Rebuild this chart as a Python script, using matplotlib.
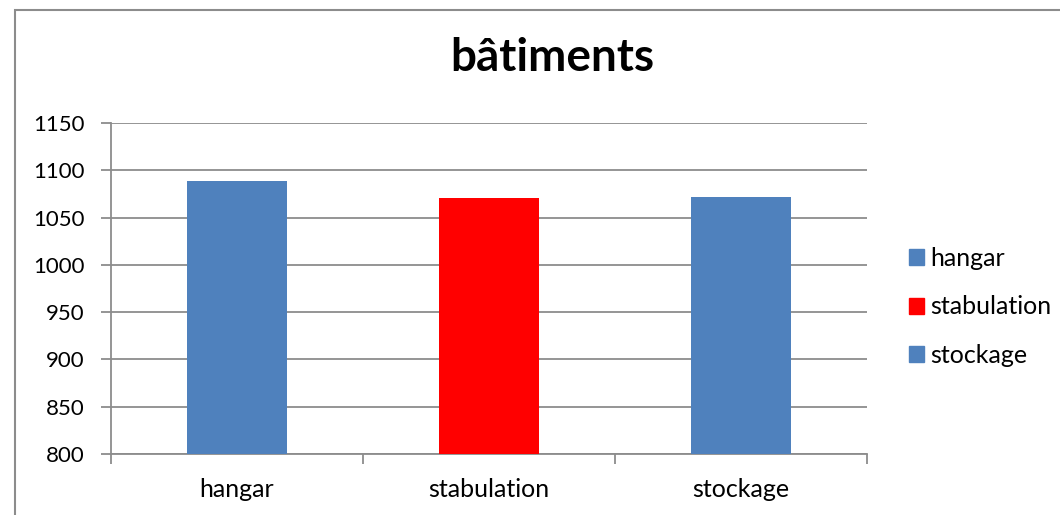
import matplotlib
matplotlib.use("Agg")
import matplotlib.pyplot as plt
import matplotlib.patches as mpatches

# data
categories = ["hangar", "stabulation", "stockage"]
values = [1089, 1071, 1072]
colors = ["#4F81BD", "#FF0000", "#4F81BD"]
yticks = [800, 850, 900, 950, 1000, 1050, 1100, 1150]

plt.rcParams["font.family"] = ["Lato", "DejaVu Sans"]
GREY = "#8C8C8C"

fig = plt.figure(figsize=(10.6, 5.15), dpi=100)
ax = fig.add_axes([111 / 1060, 1 - 454 / 515, 756 / 1060, 331 / 515])

# outer chart frame
frame = mpatches.Rectangle((15 / 1060, -0.1), 1.2, 1 - 10 / 515 + 0.1,
                           transform=fig.transFigure, fill=False,
                           edgecolor=GREY, linewidth=1.5)
fig.patches.append(frame)

x = range(len(categories))
ax.bar(x, values, width=0.40, color=colors, zorder=3)

ax.set_xlim(-0.5, len(categories) - 0.5)
ax.set_ylim(yticks[0], yticks[-1])
ax.set_yticks(yticks)
ax.set_yticklabels([str(v) for v in yticks], fontsize=16)
ax.yaxis.grid(True, color=GREY, linewidth=1.3, zorder=0)

ax.set_xticks([i - 0.5 for i in range(len(categories) + 1)])
ax.set_xticklabels([])
ax.set_xticks(list(x), minor=True)
ax.set_xticklabels(categories, minor=True, fontsize=18)
ax.tick_params(axis="x", which="minor", length=0, pad=17)
ax.tick_params(axis="x", which="major", length=7, color=GREY, width=1.3)
ax.tick_params(axis="y", length=7, color=GREY, width=1.3, pad=12)

for s in ["top", "right"]:
    ax.spines[s].set_visible(False)
for s in ["left", "bottom"]:
    ax.spines[s].set_color(GREY)
    ax.spines[s].set_linewidth(1.3)

fig.text(552 / 1060, 1 - 58 / 515, "bâtiments", ha="center", va="center",
         fontsize=33, fontweight="bold")

handles = [mpatches.Patch(color=c, label=l) for c, l in zip(colors, categories)]
fig.legend(handles=handles, loc="center left",
           bbox_to_anchor=(909 / 1060, 1 - 307 / 515),
           frameon=False, fontsize=18, handlelength=0.6, handleheight=0.6,
           handletextpad=0.25, labelspacing=1.02, borderpad=0, borderaxespad=0)

fig.savefig("out.png", dpi=100, facecolor="white")
